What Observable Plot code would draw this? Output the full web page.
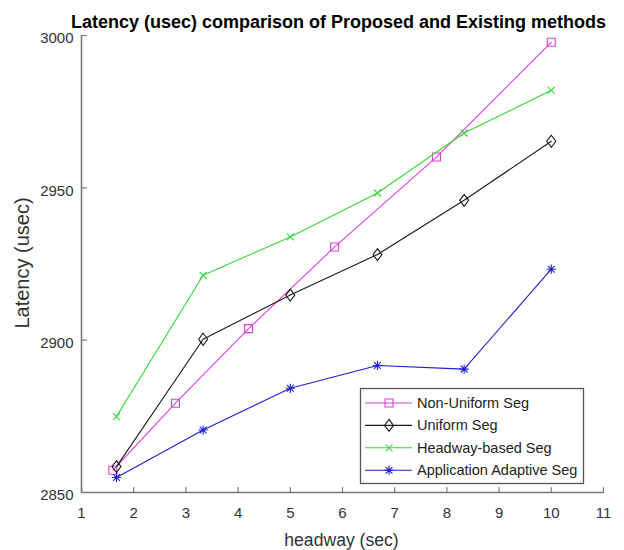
<!DOCTYPE html>
<html>
<head>
<meta charset="utf-8">
<script src="https://cdn.jsdelivr.net/npm/d3@7"></script>
<script src="https://cdn.jsdelivr.net/npm/@observablehq/plot@0.6"></script>
<style>
  html, body { margin: 0; padding: 0; background: #fff; }
  #chart svg { display: block; }
</style>
</head>
<body>
<div id="chart"></div>
<script>
// ---- Data ----
const titleText = "Latency (usec) comparison of Proposed and Existing methods";
const xLabel = "headway (sec)";
const yLabel = "Latency (usec)";
const xTicks = [1, 2, 3, 4, 5, 6, 7, 8, 9, 10, 11];
const yTicks = [2850, 2900, 2950, 3000];
const seriesNames = ["Non-Uniform Seg", "Uniform Seg", "Headway-based Seg", "Application Adaptive Seg"];
const seriesColors = ["#dd3fdd", "#1a1a1a", "#38d838", "#1f1fd0"];

const nonUniformX = [1.6, 2.8, 4.2, 5.85, 7.8, 10];
const nonUniformY = [2857.3, 2879.3, 2903.8, 2930.6, 2960.1, 2997.8];
const headwayX = [1.67, 3.33, 5, 6.67, 8.33, 10];
const uniformY = [2858.5, 2900.3, 2914.8, 2928.1, 2945.9, 2965.3];
const headwayBasedY = [2874.9, 2921.3, 2933.9, 2948.3, 2968.0, 2982.0];
const adaptiveY = [2854.9, 2870.5, 2884.2, 2891.7, 2890.5, 2923.3];

// ---- marker shapes (MATLAB-like) ----
const symSquare = { draw(c) { c.moveTo(-4, -4); c.lineTo(4, -4); c.lineTo(4, 4); c.lineTo(-4, 4); c.closePath(); } };
const symDiamond = { draw(c) { c.moveTo(0, -6); c.lineTo(4.5, 0); c.lineTo(0, 6); c.lineTo(-4.5, 0); c.closePath(); } };
const symX = { draw(c) { const h = 3.5; c.moveTo(-h, -h); c.lineTo(h, h); c.moveTo(-h, h); c.lineTo(h, -h); } };
const symStar = { draw(c) { const h = 4.6, d = 3.4; c.moveTo(-h, 0); c.lineTo(h, 0); c.moveTo(0, -h); c.lineTo(0, h);
  c.moveTo(-d, -d); c.lineTo(d, d); c.moveTo(-d, d); c.lineTo(d, -d); } };
const seriesSymbols = [symSquare, symDiamond, symX, symStar];
// plain tick stroke (no arrowhead) for inward ticks
const tickShape = { draw(c, l) { c.moveTo(0, 0); c.lineTo(0, -l); } };

const toRows = (xs, ys) => xs.map((x, i) => ({ x, y: ys[i] }));
const seriesData = [
  toRows(nonUniformX, nonUniformY),
  toRows(headwayX, uniformY),
  toRows(headwayX, headwayBasedY),
  toRows(headwayX, adaptiveY)
];

const font = "'Liberation Sans', Arial, Helvetica, sans-serif";
const axisGray = "#7a7a7a";

const seriesMarks = seriesData.flatMap((rows, i) => [
  Plot.line(rows, { x: "x", y: "y", stroke: seriesColors[i], strokeWidth: 1.1 }),
  Plot.dot(rows, { x: "x", y: "y", symbol: seriesSymbols[i], stroke: seriesColors[i], fill: "none", strokeWidth: 1.1 })
]);

const chart = Plot.plot({
  width: 624,
  height: 550,
  marginLeft: 81,
  marginRight: 21,
  marginTop: 35,
  marginBottom: 58,
  style: { fontFamily: font, background: "#fff", overflow: "visible" },
  x: { domain: [1, 11] },
  y: { domain: [2850, 3000] },
  marks: [
    // axis tick labels
    Plot.axisX(xTicks, { tickSize: 0, tickPadding: 15, fontSize: 15, color: "#333", label: null, tickFormat: d => String(d) }),
    Plot.axisY(yTicks, { tickSize: 0, tickPadding: 8, fontSize: 15, color: "#333", label: null, dy: 3, tickFormat: d => String(d) }),
    // inward ticks
    Plot.vector(xTicks, { x: d => d, frameAnchor: "bottom", length: 5, rotate: 0, anchor: "start", shape: tickShape, stroke: axisGray, strokeWidth: 1.2 }),
    Plot.vector(yTicks, { y: d => d, frameAnchor: "left", length: 5, rotate: 90, anchor: "start", shape: tickShape, stroke: axisGray, strokeWidth: 1.2 }),
    // axis lines
    Plot.ruleY([2850], { stroke: axisGray, strokeWidth: 1.6 }),
    Plot.ruleX([1], { stroke: axisGray, strokeWidth: 1.6 }),
    ...seriesMarks,
    // title and axis labels
    Plot.text([titleText], { frameAnchor: "top", textAnchor: "middle", lineAnchor: "bottom", dy: -8, dx: -4, fontSize: 18, fontWeight: "bold", fill: "#000" }),
    Plot.text([xLabel], { frameAnchor: "bottom", textAnchor: "middle", lineAnchor: "bottom", dy: 53, dx: -1, fontSize: 17.6, fill: "#333" }),
    Plot.text([yLabel], { frameAnchor: "left", textAnchor: "middle", lineAnchor: "bottom", rotate: -90, dx: -53, dy: -1, fontSize: 20, fill: "#333" })
  ]
});

// ---- Legend (MATLAB style box) ----
const svg = d3.select(chart);
const lg = svg.append("g").attr("font-family", font).attr("font-size", 14.5).attr("text-anchor", "start");
const box = { x: 360.5, y: 388.5, w: 223, h: 95 };
lg.append("rect").attr("x", box.x).attr("y", box.y).attr("width", box.w).attr("height", box.h)
  .attr("fill", "#fff").attr("stroke", "#555").attr("stroke-width", 1.3);
seriesNames.forEach((name, i) => {
  const cy = 403 + i * 22.4;
  lg.append("line").attr("x1", 365).attr("x2", 412).attr("y1", cy).attr("y2", cy)
    .attr("stroke", seriesColors[i]).attr("stroke-width", 1.1);
  const p = d3.path();
  seriesSymbols[i].draw(p);
  lg.append("path").attr("d", p.toString()).attr("transform", `translate(389,${cy})`)
    .attr("fill", "none").attr("stroke", seriesColors[i]).attr("stroke-width", 1.1);
  lg.append("text").attr("x", 417).attr("y", cy).attr("dy", "0.35em").attr("fill", "#222").text(name);
});

document.getElementById("chart").appendChild(chart);
</script>
</body>
</html>
